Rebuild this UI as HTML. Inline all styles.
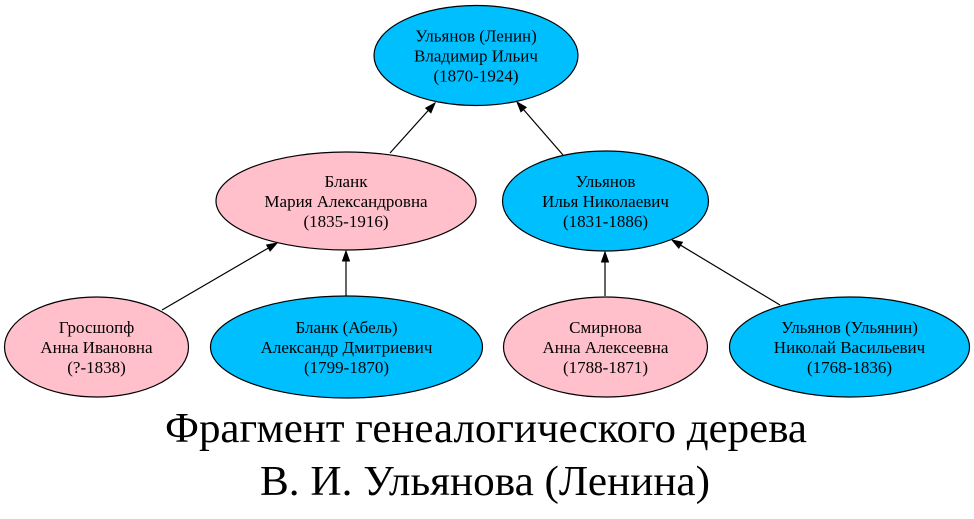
<!DOCTYPE html>
<html>
<head>
<meta charset="utf-8">
<style>
  html, body { margin:0; padding:0; background:#ffffff; }
  body { width:974px; height:519px; overflow:hidden; }
  svg { display:block; }
  .n { font-family:"Liberation Serif", "DejaVu Serif", serif; font-size:17px; fill:#000; }
  .t { font-family:"Liberation Serif", "DejaVu Serif", serif; font-size:42px; fill:#000; }
</style>
</head>
<body>
<svg width="974" height="519" viewBox="0 0 974 519" xmlns="http://www.w3.org/2000/svg">
  <rect x="0" y="0" width="974" height="519" fill="#ffffff"/>

  <!-- edges -->
  <g stroke="#000" stroke-width="1.2" fill="none">
    <line x1="390" y1="153" x2="428.3" y2="110.4"/>
    <line x1="563" y1="155" x2="523.5" y2="109.5"/>
    <line x1="162" y1="310" x2="268.4" y2="248"/>
    <line x1="346" y1="296" x2="346" y2="261"/>
    <line x1="605" y1="296" x2="605" y2="262"/>
    <line x1="780" y1="305" x2="680.6" y2="245.2"/>
  </g>
  <g fill="#000" stroke="#000" stroke-width="1">
    <polygon points="435,103 430.9,112.8 425.7,108.1"/>
    <polygon points="517,102 526.2,107.3 520.9,111.8"/>
    <polygon points="277,243 270.1,251 266.6,245"/>
    <polygon points="346,251 349.5,261 342.5,261"/>
    <polygon points="605,252 608.5,262 601.5,262"/>
    <polygon points="672,240 682.4,242.2 678.8,248.2"/>
  </g>

  <!-- nodes -->
  <g stroke="#000" stroke-width="1.2">
    <ellipse cx="476" cy="55.5" rx="102" ry="50" fill="#00bfff"/>
    <ellipse cx="346" cy="201" rx="130" ry="49" fill="#ffc0cb"/>
    <ellipse cx="605.5" cy="201" rx="103" ry="50" fill="#00bfff"/>
    <ellipse cx="96.5" cy="347" rx="92" ry="50" fill="#ffc0cb"/>
    <ellipse cx="346.5" cy="347" rx="136" ry="51" fill="#00bfff"/>
    <ellipse cx="605.5" cy="347" rx="102" ry="50" fill="#ffc0cb"/>
    <ellipse cx="849.5" cy="347" rx="120" ry="50" fill="#00bfff"/>
  </g>

  <g class="n" text-anchor="middle">
    <text x="476" y="41.5">Ульянов (Ленин)</text>
    <text x="476" y="61.5">Владимир Ильич</text>
    <text x="476" y="81.5">(1870-1924)</text>

    <text x="346" y="187">Бланк</text>
    <text x="346" y="207">Мария Александровна</text>
    <text x="346" y="227">(1835-1916)</text>

    <text x="605.5" y="187">Ульянов</text>
    <text x="605.5" y="207">Илья Николаевич</text>
    <text x="605.5" y="227">(1831-1886)</text>

    <text x="96.5" y="333">Гросшопф</text>
    <text x="96.5" y="353">Анна Ивановна</text>
    <text x="96.5" y="373">(?-1838)</text>

    <text x="346.5" y="333">Бланк (Абель)</text>
    <text x="346.5" y="353">Александр Дмитриевич</text>
    <text x="346.5" y="373">(1799-1870)</text>

    <text x="605.5" y="333">Смирнова</text>
    <text x="605.5" y="353">Анна Алексеевна</text>
    <text x="605.5" y="373">(1788-1871)</text>

    <text x="849.5" y="333">Ульянов (Ульянин)</text>
    <text x="849.5" y="353">Николай Васильевич</text>
    <text x="849.5" y="373">(1768-1836)</text>
  </g>

  <!-- title -->
  <g class="t" text-anchor="middle">
    <text x="486" y="442" textLength="642" lengthAdjust="spacingAndGlyphs">Фрагмент генеалогического дерева</text>
    <text x="485" y="495" textLength="450" lengthAdjust="spacingAndGlyphs">В. И. Ульянова (Ленина)</text>
  </g>
</svg>
</body>
</html>
